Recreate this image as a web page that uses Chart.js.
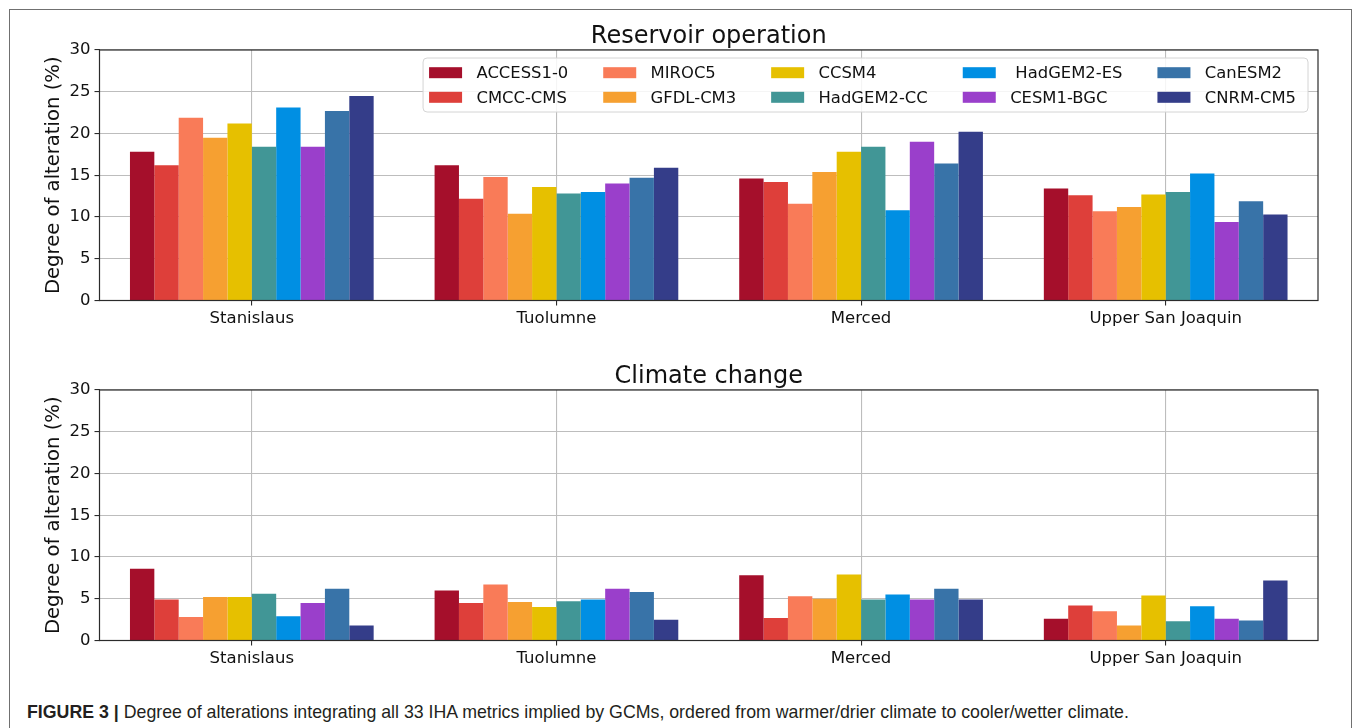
<!DOCTYPE html>
<html>
<head>
<meta charset="utf-8">
<script src="https://cdn.jsdelivr.net/npm/chart.js@4.4.1/dist/chart.umd.min.js"></script>
<style>
html,body{margin:0;padding:0;background:#fff;width:1355px;height:728px;overflow:hidden;}
#frame{position:absolute;left:9px;top:9px;width:1343px;height:760px;border:1px solid #707070;box-sizing:border-box;}
.cw{position:absolute;left:0;width:1355px;height:341px;}
#c1w{top:0;}
#c2w{top:340px;}
#caption{position:absolute;left:27px;top:701px;font-family:"Liberation Sans",Arial,sans-serif;font-size:17.75px;color:#231f20;white-space:nowrap;line-height:22px;}
#caption b{font-weight:bold;}
</style>
</head>
<body>
<div id="frame"></div>
<div class="cw" id="c1w"><canvas id="c1" width="1355" height="341"></canvas></div>
<div class="cw" id="c2w"><canvas id="c2" width="1355" height="341"></canvas></div>
<div id="caption"><b>FIGURE 3 |</b> Degree of alterations integrating all 33 IHA metrics implied by GCMs, ordered from warmer/drier climate to cooler/wetter climate.</div>
<script>
// ---------- DATA ----------
const categories = ['Stanislaus', 'Tuolumne', 'Merced', 'Upper San Joaquin'];
const models = ['ACCESS1-0', 'CMCC-CMS', 'MIROC5', 'GFDL-CM3', 'CCSM4', 'HadGEM2-CC', ' HadGEM2-ES', 'CESM1-BGC', 'CanESM2', 'CNRM-CM5'];
const modelColors = ['#a50f2b', '#de3f3a', '#f97b58', '#f6a031', '#e6c000', '#419696', '#008fe3', '#9a3fcb', '#3873a8', '#343d89'];
const yTickValues = [0, 5, 10, 15, 20, 25, 30];
const chartTitles = ['Reservoir operation', 'Climate change'];
const yAxisLabel = 'Degree of alteration (%)';

// Reservoir operation (Stanislaus, Tuolumne, Merced, Upper San Joaquin)
const resACCESS  = [17.8, 16.2, 14.6, 13.4];
const resCMCC    = [16.2, 12.2, 14.2, 12.6];
const resMIROC5  = [21.9, 14.8, 11.6, 10.7];
const resGFDL    = [19.5, 10.4, 15.4, 11.2];
const resCCSM4   = [21.2, 13.6, 17.8, 12.7];
const resHadCC   = [18.4, 12.8, 18.4, 13.0];
const resHadES   = [23.1, 13.0, 10.8, 15.2];
const resCESM1   = [18.4, 14.0, 19.0, 9.4];
const resCanESM2 = [22.7, 14.7, 16.4, 11.9];
const resCNRM    = [24.5, 15.9, 20.2, 10.3];

// Climate change
const ccACCESS  = [8.6, 6.0, 7.8, 2.6];
const ccCMCC    = [4.9, 4.5, 2.7, 4.2];
const ccMIROC5  = [2.8, 6.7, 5.3, 3.5];
const ccGFDL    = [5.2, 4.6, 5.0, 1.8];
const ccCCSM4   = [5.2, 4.0, 7.9, 5.4];
const ccHadCC   = [5.6, 4.7, 4.9, 2.3];
const ccHadES   = [2.9, 4.9, 5.5, 4.1];
const ccCESM1   = [4.5, 6.2, 4.9, 2.6];
const ccCanESM2 = [6.2, 5.8, 6.2, 2.4];
const ccCNRM    = [1.8, 2.5, 4.9, 7.2];

const reservoirSeries = [resACCESS, resCMCC, resMIROC5, resGFDL, resCCSM4, resHadCC, resHadES, resCESM1, resCanESM2, resCNRM];
const climateSeries = [ccACCESS, ccCMCC, ccMIROC5, ccGFDL, ccCCSM4, ccHadCC, ccHadES, ccCESM1, ccCanESM2, ccCNRM];

// ---------- STYLE ----------
const FONT = '"DejaVu Sans", Verdana, sans-serif';
const TXT = '#111111';

const spinesPlugin = {
  id: 'spines',
  afterDraw(chart) {
    const {ctx, chartArea: a} = chart;
    ctx.save();
    ctx.strokeStyle = '#2b2b2b';
    ctx.lineWidth = 1.2;
    ctx.strokeRect(a.left, a.top, a.right - a.left, a.bottom - a.top);
    ctx.restore();
  }
};

const axesTitle = {
  id: 'axesTitle',
  afterDraw(chart, args, opts) {
    const {ctx, chartArea: a} = chart;
    ctx.save();
    ctx.font = '24px ' + FONT;
    ctx.fillStyle = TXT;
    ctx.textAlign = 'center';
    ctx.textBaseline = 'middle';
    ctx.fillText(opts.text, (a.left + a.right) / 2, a.top - 13.5);
    ctx.restore();
  }
};

const gcmLegend = {
  id: 'gcmLegend',
  afterDraw(chart, args, opts) {
    if (!opts || !opts.show) return;
    const ctx = chart.ctx, area = chart.chartArea;
    const ds = chart.data.datasets;
    const fs = 16.4;
    ctx.save();
    ctx.font = fs + 'px ' + FONT;
    const nrow = 2, ncol = Math.ceil(ds.length / nrow);
    const sw = 33, sh = 11, tpad = 14.4, cs = 35, padL = 6, padR = 12, rowH = 24.6;
    const colW = [];
    for (let c = 0; c < ncol; c++) {
      let m = 0;
      for (let r = 0; r < nrow; r++) {
        const i = c * nrow + r;
        if (i < ds.length) m = Math.max(m, ctx.measureText(ds[i].label).width);
      }
      colW.push(sw + tpad + m);
    }
    const totalW = padL + padR + colW.reduce((s, v) => s + v, 0) + cs * (ncol - 1);
    const boxH = 54;
    const right = area.right - 10, top = area.top + 8, left = right - totalW;
    ctx.beginPath();
    if (ctx.roundRect) ctx.roundRect(left, top, totalW, boxH, 4); else ctx.rect(left, top, totalW, boxH);
    ctx.globalAlpha = 0.85;
    ctx.fillStyle = '#ffffff';
    ctx.fill();
    ctx.globalAlpha = 1;
    ctx.strokeStyle = '#d4d4d4';
    ctx.lineWidth = 1;
    ctx.stroke();
    let x = left + padL;
    ctx.textBaseline = 'middle';
    ctx.textAlign = 'left';
    for (let c = 0; c < ncol; c++) {
      for (let r = 0; r < nrow; r++) {
        const i = c * nrow + r;
        if (i >= ds.length) continue;
        const y = top + 14.7 + r * rowH;
        ctx.fillStyle = ds[i].backgroundColor;
        ctx.fillRect(x, y - sh / 2, sw, sh);
        ctx.fillStyle = TXT;
        ctx.fillText(ds[i].label, x + sw + tpad, y + 1);
      }
      x += colW[c] + cs;
    }
    ctx.restore();
  }
};

function makeChart(id, title, series, showLegend) {
  return new Chart(document.getElementById(id), {
    type: 'bar',
    data: {
      labels: categories,
      datasets: models.map((m, i) => ({
        label: m,
        data: series[i],
        backgroundColor: modelColors[i],
        borderWidth: 0,
        categoryPercentage: 0.8,
        barPercentage: 1.0
      }))
    },
    options: {
      responsive: false,
      animation: false,
      devicePixelRatio: 1,
      layout: {padding: {left: 0, right: 37, top: 50, bottom: 0}},
      plugins: {
        legend: {display: false},
        tooltip: {enabled: false},
        title: {display: false},
        axesTitle: {text: title},
        gcmLegend: {show: showLegend}
      },
      scales: {
        x: {
          z: 1,
          afterFit(scale) { scale.height = 40.5; },
          grid: {
            offset: false,
            color: '#bdbdbd',
            lineWidth: 1.1,
            drawTicks: true,
            tickLength: 5,
            tickColor: '#2b2b2b',
            tickWidth: 1.1
          },
          border: {display: false},
          ticks: {color: TXT, padding: 3, font: {family: FONT, size: 16.5}, maxRotation: 0, autoSkip: false}
        },
        y: {
          z: 1,
          min: 0,
          max: 30,
          afterFit(scale) { scale.width = 99.5; },
          afterBuildTicks(scale) { scale.ticks = yTickValues.map(v => ({value: v})); },
          grid: {
            color: '#bdbdbd',
            lineWidth: 1.1,
            drawTicks: true,
            tickLength: 5,
            tickColor: '#2b2b2b',
            tickWidth: 1.1
          },
          border: {display: false},
          ticks: {color: TXT, padding: 4, font: {family: FONT, size: 16.5}},
          title: {
            display: true,
            text: yAxisLabel,
            color: TXT,
            font: {family: FONT, size: 19.6, lineHeight: 1.2},
            padding: {top: 42.2, bottom: 0}
          }
        }
      }
    },
    plugins: [spinesPlugin, axesTitle, gcmLegend]
  });
}

makeChart('c1', chartTitles[0], reservoirSeries, true);
makeChart('c2', chartTitles[1], climateSeries, false);
</script>
</body>
</html>
